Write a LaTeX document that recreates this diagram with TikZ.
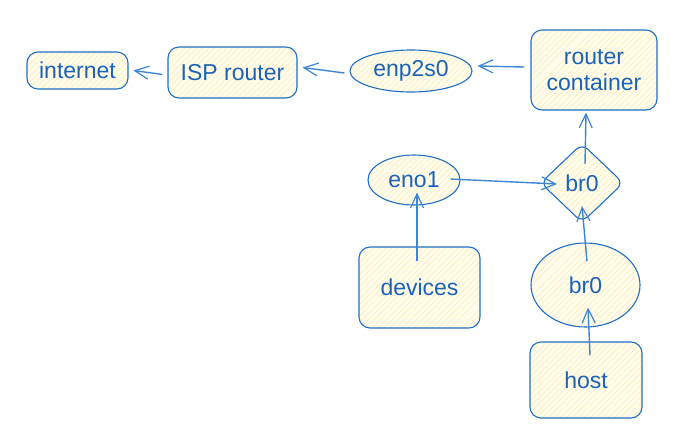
\documentclass[tikz,border=0pt]{standalone}
\usepackage{fontspec}
\setmainfont{Liberation Sans}
\usetikzlibrary{shapes.geometric,arrows.meta,patterns.meta}
\definecolor{sk}{HTML}{1F6FC5}
\definecolor{tx}{HTML}{1A63B8}
\definecolor{ar}{HTML}{3D86D2}
\definecolor{bgy}{HTML}{FFFCEC}
\definecolor{hy}{HTML}{FCEDB8}
\tikzset{
  base/.style={draw=sk, line width=1.1pt, text=tx, font=\fontsize{23}{26}\selectfont, inner sep=0pt,
    preaction={fill=bgy},
    pattern={Lines[angle=45,distance=4pt,line width=0.8pt]}, pattern color=hy},
  rbox/.style={base, rectangle, rounded corners=11pt},
  ell/.style={base, ellipse},
  dia/.style={base, diamond, rounded corners=8pt},
  arr/.style={draw=ar, line width=1.4pt, -{Straight Barb[length=14pt,width=13pt,line width=1.2pt]}},
}
\begin{document}
\begin{tikzpicture}[x=1pt,y=1pt]
\useasboundingbox (0,0) rectangle (690,-445);
\node[rbox, minimum width=101pt, minimum height=37pt] (internet) at (77.5,-70.5) {internet};
\node[rbox, minimum width=129pt, minimum height=51pt] (isp) at (232.5,-72.5) {ISP router};
\node[ell, minimum width=122pt, minimum height=42pt] (enp) at (411,-71) {enp2s0};
\node[rbox, minimum width=126pt, minimum height=80pt, align=center] (router) at (594,-70) {router\\container};
\node[ell, minimum width=92pt, minimum height=50pt] (eno) at (414,-180) {eno1};
\node[dia, minimum width=83pt, minimum height=79pt] (brd) at (582,-183) {br0};
\node[rbox, minimum width=121pt, minimum height=81pt] (devices) at (419.5,-287.5) {devices};
\node[ell, minimum width=109pt, minimum height=84pt] (bre) at (585.5,-285) {br0};
\node[rbox, minimum width=112pt, minimum height=76pt] (host) at (586,-380) {host};

\draw[arr] ([xshift=-5pt,yshift=-2pt]isp.west) -- ([xshift=5pt]internet.east);
\draw[arr] ([xshift=-5pt,yshift=-2pt]enp.west) -- ([xshift=5pt,yshift=5pt]isp.east);
\draw[arr] ([xshift=-6pt,yshift=3pt]router.west) -- ([xshift=5pt,yshift=5pt]enp.east);
\draw[arr] ([xshift=3pt,yshift=-21pt]brd.north) -- ([xshift=-8pt,yshift=-2pt]router.south);
\draw[arr] ([xshift=-10pt,yshift=1pt]eno.east) -- ([xshift=17pt,yshift=-1pt]brd.west);
\draw[arr] ([xshift=-2.5pt,yshift=-15pt]devices.north) -- ([xshift=3pt,yshift=13pt]eno.south);
\draw[arr] ([xshift=1.5pt,yshift=-19pt]bre.north) -- ([yshift=17pt]brd.south);
\draw[arr] ([xshift=4pt,yshift=-14pt]host.north) -- ([xshift=2.5pt,yshift=20pt]bre.south);
\end{tikzpicture}
\end{document}
